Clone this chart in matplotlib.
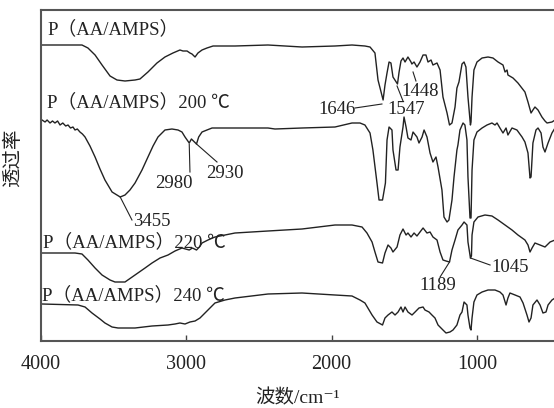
import matplotlib
matplotlib.use("Agg")
import matplotlib.pyplot as plt

plt.rcParams['font.family'] = ['Liberation Serif', 'Noto Sans CJK SC', 'DejaVu Sans']

# spectra: wavenumber (cm-1) and transmittance (a.u., offset per sample)
wn_raw = [4000, 3718, 3677, 3628, 3580, 3525, 3477, 3422, 3353, 3319, 3264, 3202, 3147,
          3092, 3044, 3023, 2995, 2975, 2961, 2940, 2920, 2892, 2858, 2816, 2665, 2438,
          2204, 1977, 1860, 1771, 1736, 1702, 1681, 1646, 1633, 1619, 1605, 1592, 1578,
          1547, 1536, 1523, 1509, 1495, 1475, 1454, 1448, 1433, 1413, 1392, 1371, 1351,
          1337, 1316, 1303, 1275, 1254, 1234, 1206, 1189, 1172, 1151, 1138, 1124, 1103,
          1089, 1076, 1062, 1045, 1041, 1034, 1021, 1000, 965, 924, 890, 855, 821, 807,
          793, 787, 752, 718, 670, 649, 628, 615, 601, 580, 553, 532, 518, 484, 463]
t_raw = [296, 296, 293, 286, 276, 265, 261, 260, 261, 262, 269, 278, 284,
         288, 291, 290, 290, 288, 287, 284, 288, 291, 293, 295, 295, 296,
         294, 295, 296, 295, 294, 288, 261, 241, 256, 268, 279, 278, 264,
         257, 269, 280, 283, 279, 284, 279, 277, 279, 274, 279, 286, 286,
         279, 281, 276, 278, 271, 244, 228, 216, 218, 234, 253, 259, 277,
         279, 274, 244, 216, 219, 244, 271, 279, 283, 284, 283, 279, 276, 269,
         271, 266, 263, 258, 249, 239, 228, 231, 234, 231, 224, 220, 218, 219, 221]

wn_200 = [3993, 3972, 3958, 3938, 3921, 3904, 3886, 3869, 3850, 3830, 3814, 3797, 3780,
          3766, 3750, 3732, 3715, 3697, 3663, 3628, 3594, 3560, 3511,
          3455, 3422, 3388, 3353, 3305, 3264, 3229, 3195, 3147, 3099, 3057, 3030, 3009,
          2980, 2965, 2930, 2915, 2892, 2858, 2823, 2665, 2438, 2390, 2204, 1977, 1860,
          1805, 1771, 1736, 1716, 1688, 1674, 1650, 1630, 1619, 1605, 1585, 1578, 1557,
          1543, 1530, 1509, 1502, 1488, 1475, 1454, 1440, 1413, 1399, 1378, 1364, 1344,
          1323, 1303, 1282, 1268, 1241, 1227, 1206, 1193, 1172, 1158, 1138, 1131, 1117,
          1096, 1083, 1069, 1062, 1048, 1041, 1034, 1021, 1000, 965, 931, 897, 876, 862,
          842, 821, 800, 787, 759, 725, 690, 670, 649, 635, 628, 615, 594, 580, 559, 546,
          532, 511, 484, 463]
t_200 = [221, 219, 221, 218, 220, 218, 220, 216, 218, 215, 216, 213, 214,
         211, 212, 209, 207, 204, 195, 184, 172, 161, 149,
         144, 146, 151, 158, 171, 184, 195, 204, 211, 212, 211, 209, 204,
         198, 202, 197, 204, 209, 211, 213, 213, 213, 212, 213, 214, 218,
         218, 216, 208, 191, 158, 141, 141, 158, 201, 214, 211, 191, 171,
         171, 194, 214, 224, 214, 203, 201, 209, 204, 198, 204, 211, 204,
         188, 179, 184, 174, 151, 124, 119, 121, 141, 164, 191, 196, 211,
         218, 216, 201, 164, 123, 123, 171, 201, 209, 213, 216, 218, 216, 218,
         213, 208, 213, 206, 213, 211, 204, 199, 188, 163, 164, 198, 211, 213, 208, 194,
         189, 198, 208, 213]

wn_220 = [3993, 3766, 3718, 3677, 3628, 3580, 3525, 3491, 3422, 3353, 3284, 3236, 3181,
          3126, 3078, 3030, 2980, 2958, 2930, 2910, 2892, 2851, 2803, 2665, 2438, 2204,
          1977, 1860, 1791, 1757, 1722, 1702, 1681, 1650, 1633, 1612, 1592, 1578, 1550,
          1530, 1509, 1488, 1475, 1454, 1433, 1413, 1392, 1371, 1344, 1323, 1303, 1275,
          1254, 1234, 1213, 1189, 1172, 1151, 1131, 1103, 1089, 1069, 1062, 1045, 1038,
          1034, 1021, 993, 945, 897, 855, 807, 759, 718, 670, 649, 635, 621, 601, 566,
          532, 497, 463]
t_220 = [88, 88, 87, 81, 73, 66, 61, 59, 59, 66, 73, 78, 83,
         86, 90, 93, 91, 93, 91, 94, 98, 101, 104, 108, 110, 112,
         116, 116, 114, 108, 99, 89, 79, 78, 88, 96, 93, 89, 94,
         106, 112, 106, 108, 104, 108, 105, 109, 113, 108, 109, 104, 101,
         89, 81, 80, 79, 91, 101, 111, 116, 119, 116, 99, 83, 85,
         106, 119, 124, 126, 125, 121, 116, 111, 106, 101, 96, 89, 93, 98, 96,
         94, 99, 101]

wn_240 = [3993, 3745, 3697, 3649, 3594, 3560, 3511, 3470, 3353, 3236, 3126, 3078, 3044,
          3009, 2975, 2940, 2906, 2851, 2803, 2734, 2665, 2438, 2204, 1977, 1860, 1805,
          1771, 1722, 1688, 1650, 1633, 1612, 1585, 1564, 1543, 1523, 1509, 1495, 1475,
          1447, 1426, 1399, 1371, 1358, 1330, 1310, 1289, 1268, 1234, 1213, 1186, 1165,
          1138, 1117, 1103, 1089, 1069, 1062, 1048, 1041, 1034, 1021, 1000, 965, 924, 876,
          842, 821, 800, 787, 773, 738, 704, 683, 656, 642, 628, 615, 587, 566, 546, 525,
          511, 484, 463]
t_240 = [37, 36, 34, 28, 22, 18, 14, 13, 13, 15, 16, 17, 18,
         17, 19, 20, 23, 31, 38, 41, 43, 47, 48, 46, 45, 41,
         38, 26, 19, 16, 23, 26, 29, 26, 29, 34, 29, 34, 29,
         26, 29, 33, 34, 31, 29, 26, 23, 16, 11, 8, 9, 11,
         16, 26, 29, 39, 36, 26, 13, 11, 23, 39, 46, 49, 51, 51,
         49, 46, 36, 43, 48, 46, 44, 38, 26, 19, 23, 36, 41, 36, 28, 29,
         36, 41, 43]

series = [(wn_raw, t_raw), (wn_200, t_200), (wn_220, t_220), (wn_240, t_240)]
names = ['P（AA/AMPS）', 'P（AA/AMPS）200 ℃', 'P（AA/AMPS）220 ℃', 'P（AA/AMPS）240 ℃']
name_pos = [(3959, 312), (3959, 239), (3986, 99), (3993, 46)]

# peak labels: text, text position, leader start, leader end
peaks = [
    ('1646', (1963, 231), (1839, 233), (1654, 237)),
    ('1547', (1488, 231), (1550, 255), (1509, 240)),
    ('1448', (1392, 249), (1440, 269), (1420, 260)),
    ('2980', (3085, 157), (2980, 197), (2975, 169)),
    ('2930', (2734, 168), (2930, 197), (2789, 179)),
    ('3455', (3236, 119), (3455, 144), (3374, 121)),
    ('1189', (1268, 56), (1189, 79), (1254, 64)),
    ('1045', (773, 73), (1045, 83), (910, 76)),
]

fig = plt.figure(figsize=(5.54, 4.08), dpi=100)
ax = fig.add_axes([41 / 554, 67 / 408, 513 / 554, 331 / 408])

for wn, t in series:
    ax.plot(wn, t, color='#222222', lw=1.0)

for name, (x, y) in zip(names, name_pos):
    ax.text(x, y, name, fontsize=13.5, ha='left', va='center', color='#222222')

for label, tpos, p0, p1 in peaks:
    ax.plot([p0[0], p1[0]], [p0[1], p1[1]], color='#222222', lw=0.8)
    ax.text(tpos[0], tpos[1], label, fontsize=13.5, ha='center', va='center', color='#222222')

ax.set_xlim(4000, 470)
ax.set_ylim(0, 331)
ax.set_xticks([4000, 3000, 2000, 1000])
ax.set_yticks([])
ax.tick_params(axis='x', direction='in', length=4, width=1, labelsize=14.5, pad=10,
               colors='#444444', labelcolor='#222222')
for s in ['left', 'bottom', 'top']:
    ax.spines[s].set_linewidth(1.5)
    ax.spines[s].set_color('#555555')
ax.spines['right'].set_visible(False)

ax.set_xlabel('波数/cm⁻¹', fontsize=14, labelpad=11, color='#222222')
fig.text(13 / 554, 1 - 158 / 408, '透过率', rotation=90, fontsize=14, ha='center', va='center', color='#222222')

fig.savefig('out.png', dpi=100)
